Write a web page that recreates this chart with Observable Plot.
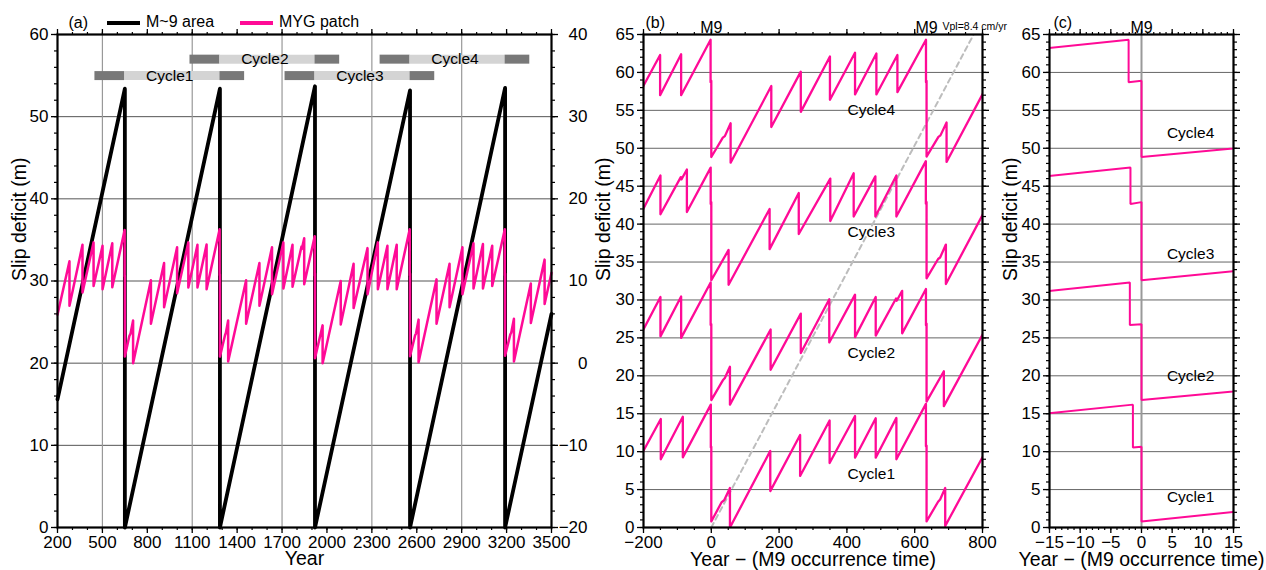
<!DOCTYPE html>
<html>
<head>
<meta charset="utf-8">
<script src="https://cdn.jsdelivr.net/npm/d3@7"></script>
<script src="https://cdn.jsdelivr.net/npm/@observablehq/plot@0.6"></script>
<style>
  body { margin: 0; background: #fff; }
  #wrap { position: relative; width: 1266px; height: 570px; overflow: hidden;
          font-family: "Liberation Sans", Arial, Helvetica, sans-serif; }
  .panel { position: absolute; top: 0; }
  .panel svg { overflow: visible; }
  .lg { position: absolute; font-size: 16px; line-height: 16px; white-space: nowrap; }
  .sw { position: absolute; height: 4px; width: 33px; }
</style>
</head>
<body>
<div id="wrap">
  <div class="sw" style="left:107px;top:21px;background:#000"></div>
  <div class="lg" style="left:146px;top:14px">M~9 area</div>
  <div class="sw" style="left:240px;top:21px;background:#ff0a96"></div>
  <div class="lg" style="left:279px;top:14px">MYG patch</div>
</div>
<script>
// ---------------- data ----------------
// M9 occurrence years (panel a time axis)
const m9Years = [650, 1285, 1920, 2555, 3190];

// Slip deficit of the M~9 area (left axis of panel a): [year, m]
const m9AreaSlip = [
  [200, 15.6], [650, 53.4], [650, 0], [1285, 53.4], [1285, 0], [1920, 53.7], [1920, 0],
  [2555, 53.2], [2555, 0], [3190, 53.5], [3190, 0], [3500, 26.0]
];

// MYG patch slip deficit (m), time relative to the M9 that anchors each segment
const mygPre = [ // relative to the first M9
  [-450, 5.9], [-370, 12.4], [-370, 7.0], [-283, 14.4], [-283, 8.6], [-209, 14.7], [-209, 9.4],
  [-149, 14.3], [-149, 9.0], [-84, 14.6], [-84, 9.25], [-1.4, 16.2], [-1.4, 10.55], [0, 10.65]
];
const mygCycle1 = [
  [0, 0.8], [30, 3.3], [38, 3.6], [55, 5.2], [55, 0.0], [174, 10.1], [174, 4.8], [262, 12.2], [262, 6.8],
  [349, 14.1], [349, 8.5], [424, 14.7], [424, 9.2], [485, 14.4], [485, 9.2], [546, 14.45], [546, 9.0],
  [633.1, 16.3], [633.1, 10.7], [635, 10.8]
];
const mygCycle2 = [
  [0, 0.8], [34, 3.4], [40, 3.7], [55, 5.2], [55, 0.2], [175, 10.1], [175, 4.8], [264, 12.2], [264, 7.0],
  [348, 14.1], [348, 8.4], [424, 14.7], [424, 9.1], [485, 14.4], [485, 9.3], [545, 14.2], [547, 13.9],
  [563, 15.2], [563, 9.6], [633.2, 15.45], [633.2, 10.65], [635, 10.9]
];
const mygCycle3 = [
  [0, 0.6], [51, 4.6], [51, 0.0], [172, 10.0], [172, 4.7], [258, 12.1], [258, 6.7], [351, 14.0], [351, 8.4],
  [420, 14.7], [420, 9.0], [484, 14.3], [484, 9.0], [546, 14.4], [546, 9.0], [632.9, 16.3], [632.9, 10.7],
  [635, 10.9]
];
const mygCycle4 = [
  [0, 0.85], [34, 3.4], [40, 3.6], [57, 5.3], [57, 0.1], [177, 10.2], [177, 4.8], [264, 12.1], [264, 6.8],
  [350, 14.1], [350, 8.4], [424, 14.6], [424, 9.1], [487, 14.5], [487, 9.1], [549, 14.3], [549, 9.4],
  [633.3, 16.3], [633.3, 10.7], [635, 10.9]
];
const mygCycle5 = [
  [0, 0.9], [35, 3.5], [41, 3.7], [59, 5.4], [59, 0.2], [172, 9.7], [172, 4.9], [264, 12.6], [264, 7.2],
  [310, 11.0]
];
const mygSegments = [mygPre, mygCycle1, mygCycle2, mygCycle3, mygCycle4, mygCycle5];
const mygAnchorIndex = [0, 0, 1, 2, 3, 4];

const cycleNames = ["Cycle1", "Cycle2", "Cycle3", "Cycle4"];
const cycleOffset = [0, 16, 32, 48];        // vertical shift in panels b and c (m)
const cycleBarLevel = [55, 57, 55, 57];     // level of cycle bars in panel a (left axis)
const rightAxisShift = 20;                  // right axis (a) = left axis - 20
const vplRate = 0.084;                      // m/yr  (Vpl = 8.4 cm/yr)
const windowB = [-200, 800];
const windowC = [-15, 15];

// tick labels
const xTicksA = [200, 500, 800, 1100, 1400, 1700, 2000, 2300, 2600, 2900, 3200, 3500];
const yTicksA = [0, 10, 20, 30, 40, 50, 60];
const gridXA = [500, 1100, 1700, 2300, 2900];
const xTicksB = [-200, 0, 200, 400, 600, 800];
const yTicksB = [0, 5, 10, 15, 20, 25, 30, 35, 40, 45, 50, 55, 60, 65];
const xTicksC = [-15, -10, -5, 0, 5, 10, 15];

// ---------------- derived tables ----------------
const myg = mygSegments.flatMap((seg, i) =>
  seg.map(([t, s]) => ({year: m9Years[mygAnchorIndex[i]] + t, slip: s})));

const cycleData = cycleNames.flatMap((name, k) =>
  myg.map(d => ({cycle: name, t: d.year - m9Years[k], v: d.slip + cycleOffset[k]})));

const cycleBars = cycleNames.flatMap((name, k) => [
  {x1: m9Years[k] + windowB[0], x2: m9Years[k], tone: "dark", level: cycleBarLevel[k]},
  {x1: m9Years[k], x2: m9Years[k + 1], tone: "light", level: cycleBarLevel[k]},
  {x1: m9Years[k + 1], x2: m9Years[k] + windowB[1], tone: "dark", level: cycleBarLevel[k]}
]);
const cycleLabelsA = cycleNames.map((name, k) => ({
  name, x: m9Years[k] + (windowB[0] + windowB[1]) / 2, level: cycleBarLevel[k]}));

const vplLine = [[0, 0], [windowB[1], windowB[1] * vplRate]];

// ---------------- helpers ----------------
const FONT = '"Liberation Sans", Arial, Helvetica, sans-serif';
const PINK = "#ff0a96";
const TICKFONT = 17;
const TITLEFONT = 19.5;
const fmt = d => (d < 0 ? "\u2212" + (-d) : String(d));
const blank = () => "";

function frameAxes({xMajor, xMinor, yMajor, yMinor, rightFormat, rightPadding = 3}) {
  return [
    Plot.axisX({anchor: "bottom", ticks: xMajor, tickSize: 6, tickPadding: 2, fontSize: TICKFONT, label: null, tickFormat: fmt, strokeWidth: 1.3}),
    Plot.axisX({anchor: "bottom", ticks: xMinor, tickSize: 3, label: null, tickFormat: blank, strokeWidth: 1.2}),
    Plot.axisX({anchor: "top", ticks: xMajor, tickSize: 6, label: null, tickFormat: blank, strokeWidth: 1.3}),
    Plot.axisX({anchor: "top", ticks: xMinor, tickSize: 3, label: null, tickFormat: blank, strokeWidth: 1.2}),
    Plot.axisY({anchor: "left", ticks: yMajor, tickSize: 6, tickPadding: 3, fontSize: TICKFONT, label: null, tickFormat: fmt, strokeWidth: 1.3}),
    Plot.axisY({anchor: "left", ticks: yMinor, tickSize: 3, label: null, tickFormat: blank, strokeWidth: 1.2}),
    Plot.axisY({anchor: "right", ticks: yMajor, tickSize: 6, tickPadding: rightPadding, fontSize: TICKFONT, label: null,
                tickFormat: rightFormat || blank, textAnchor: "end", strokeWidth: 1.3}),
    Plot.axisY({anchor: "right", ticks: yMinor, tickSize: 3, label: null, tickFormat: blank, strokeWidth: 1.2}),
    Plot.frame({stroke: "black", strokeWidth: 2.2})
  ];
}
const styleBase = {fontFamily: FONT, fontSize: "16px", overflow: "visible", background: "transparent", color: "black"};

// ---------------- panel (a) ----------------
const plotA = Plot.plot({
  width: 592, height: 570, marginLeft: 57, marginRight: 41, marginTop: 34, marginBottom: 43,
  style: styleBase,
  x: {domain: [xTicksA[0], xTicksA[xTicksA.length - 1]]},
  y: {domain: [yTicksA[0], yTicksA[yTicksA.length - 1]]},
  marks: [
    Plot.gridY(yTicksA.slice(1, -1), {stroke: "#555", strokeOpacity: 1, strokeWidth: 1}),
    Plot.gridX(gridXA, {stroke: "#999", strokeOpacity: 1, strokeWidth: 1.2}),
    Plot.ruleY(cycleBars, {y: "level", x1: "x1", x2: "x2", stroke: d => d.tone === "dark" ? "#787878" : "#d4d4d4", strokeWidth: 9}),
    Plot.text(cycleLabelsA, {x: "x", y: "level", text: "name", fontSize: 15.5, fill: "black"}),
    Plot.line(m9AreaSlip, {x: d => d[0], y: d => d[1], stroke: "black", strokeWidth: 3.8, strokeLinejoin: "round"}),
    Plot.line(myg, {x: "year", y: d => d.slip + rightAxisShift, stroke: PINK, strokeWidth: 2.5, strokeLinejoin: "round"}),
    ...frameAxes({xMajor: xTicksA, xMinor: d3.range(200, 3501, 100), yMajor: yTicksA, yMinor: d3.range(0, 61, 2),
                  rightFormat: d => fmt(d - rightAxisShift), rightPadding: 30}),
    Plot.text(["Slip deficit (m)"], {frameAnchor: "left", dx: -38, rotate: -90, fontSize: TITLEFONT}),
    Plot.text(["Year"], {frameAnchor: "bottom", dy: 37, fontSize: TITLEFONT}),
    Plot.text(["(a)"], {frameAnchor: "top-left", dx: 11, dy: -7, lineAnchor: "bottom", textAnchor: "start", fontSize: 16})
  ]
});

// ---------------- panel (b) ----------------
const plotB = Plot.plot({
  width: 408, height: 570, marginLeft: 51, marginRight: 18, marginTop: 34, marginBottom: 43,
  style: styleBase,
  x: {domain: windowB},
  y: {domain: [yTicksB[0], yTicksB[yTicksB.length - 1]]},
  marks: [
    Plot.gridY(yTicksB.slice(1, -1), {stroke: "#666", strokeOpacity: 1, strokeWidth: 1}),
    Plot.line(vplLine, {x: d => d[0], y: d => d[1], stroke: "#bdbdbd", strokeWidth: 2, strokeDasharray: "5,4", clip: true}),
    Plot.line(cycleData, {x: "t", y: "v", z: "cycle", stroke: PINK, strokeWidth: 2.3, strokeLinejoin: "round", clip: true}),
    Plot.text(cycleNames, {x: 472, y: (d, i) => cycleOffset[i] + 7, text: d => d, fontSize: 15.5}),
    ...frameAxes({xMajor: xTicksB, xMinor: d3.range(-200, 801, 50), yMajor: yTicksB, yMinor: d3.range(0, 66, 1)}),
    Plot.text([0, m9Years[1] - m9Years[0]], {x: d => d, frameAnchor: "top", dy: -2, lineAnchor: "bottom", text: () => "M9", fontSize: 16}),
    Plot.text(["Vpl=8.4 cm/yr"], {frameAnchor: "top-right", dx: -40, dy: -5, lineAnchor: "bottom", textAnchor: "start", fontSize: 10.5}),
    Plot.text(["Slip deficit (m)"], {frameAnchor: "left", dx: -40, rotate: -90, fontSize: TITLEFONT}),
    Plot.text(["Year \u2212 (M9 occurrence time)"], {frameAnchor: "bottom", dy: 38.5, fontSize: TITLEFONT}),
    Plot.text(["(b)"], {frameAnchor: "top-left", dx: 2, dy: -7, lineAnchor: "bottom", textAnchor: "start", fontSize: 16})
  ]
});

// ---------------- panel (c) ----------------
const plotC = Plot.plot({
  width: 266, height: 570, marginLeft: 49, marginRight: 33, marginTop: 34, marginBottom: 43,
  style: styleBase,
  x: {domain: windowC},
  y: {domain: [yTicksB[0], yTicksB[yTicksB.length - 1]]},
  marks: [
    Plot.gridY(yTicksB.slice(1, -1), {stroke: "#666", strokeOpacity: 1, strokeWidth: 1}),
    Plot.gridX([0], {stroke: "#999", strokeOpacity: 1, strokeWidth: 2}),
    Plot.line(cycleData, {x: "t", y: "v", z: "cycle", stroke: PINK, strokeWidth: 2, strokeLinejoin: "miter", clip: true}),
    Plot.text(cycleNames, {x: 8, y: (d, i) => cycleOffset[i] + 4, text: d => d, fontSize: 15.5}),
    ...frameAxes({xMajor: xTicksC, xMinor: d3.range(-15, 16, 1), yMajor: yTicksB, yMinor: d3.range(0, 66, 1)}),
    Plot.text([0], {x: d => d, frameAnchor: "top", dy: -2, lineAnchor: "bottom", text: () => "M9", fontSize: 16}),
    Plot.text(["Slip deficit (m)"], {frameAnchor: "left", dx: -39, rotate: -90, fontSize: TITLEFONT}),
    Plot.text(["Year \u2212 (M9 occurrence time)"], {frameAnchor: "bottom", dy: 38.5, fontSize: TITLEFONT}),
    Plot.text(["(c)"], {frameAnchor: "top-left", dx: 4, dy: -7, lineAnchor: "bottom", textAnchor: "start", fontSize: 16})
  ]
});

const wrap = document.getElementById("wrap");
[[plotA, 0], [plotB, 592], [plotC, 1000]].forEach(([p, left]) => {
  const div = document.createElement("div");
  div.className = "panel";
  div.style.left = left + "px";
  div.appendChild(p);
  wrap.insertBefore(div, wrap.firstChild);
});
</script>
</body>
</html>
